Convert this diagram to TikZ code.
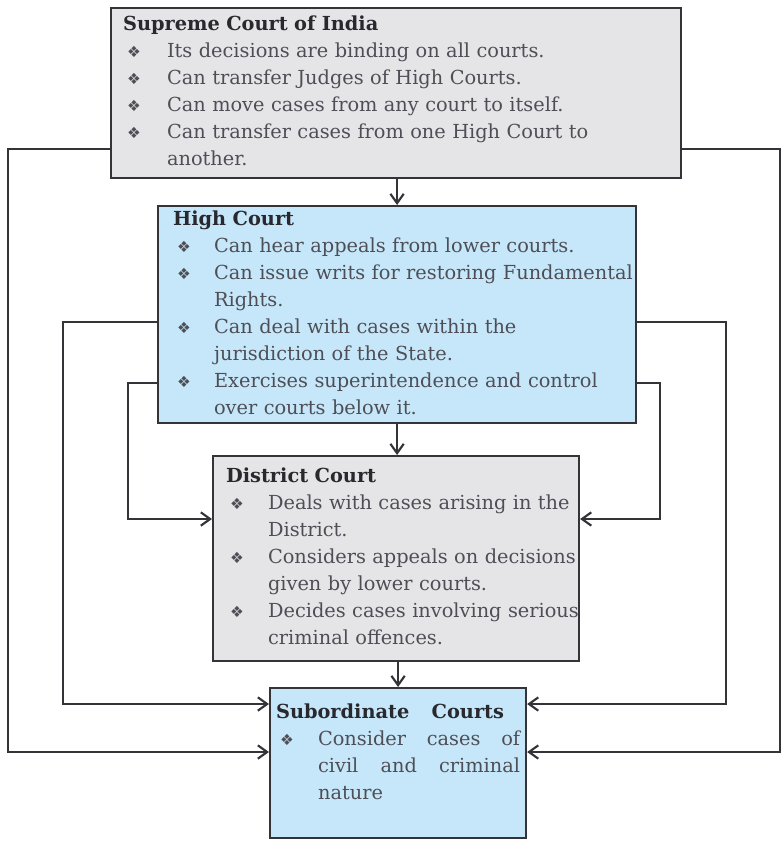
\documentclass[tikz,border=0pt]{standalone}
\usepackage{fontspec}
\setmainfont{DejaVu Serif}
\newfontfamily\dingfont{DejaVu Sans}
\usepackage{array}
\usetikzlibrary{arrows.meta,positioning,calc}
\definecolor{boxgray}{RGB}{229,229,231}
\definecolor{boxblue}{RGB}{198,231,249}
\definecolor{edgegray}{RGB}{52,52,56}
\definecolor{txtgray}{RGB}{78,78,86}
\definecolor{headgray}{RGB}{40,40,46}
\newdimen\px \px=0.75pt
\newcommand{\bul}{\hspace*{4\px}{\dingfont\fontsize{11.5}{11.5}\selectfont ❖}}
\newcommand{\head}[1]{{\bfseries\color{headgray}#1}}

\begin{document}
\begin{tikzpicture}[x=0.75pt,y=-0.75pt,>={Straight Barb[length=7pt,width=10pt]},
  court/.style={draw=edgegray,line width=1.6pt,anchor=north west,inner sep=0pt,align=left,
    font=\fontsize{14.5}{20.25}\selectfont,text=txtgray},
  conn/.style={->,draw=edgegray,line width=1.6pt}]
  \useasboundingbox (0,0) rectangle (784,846);

  % the four courts
  \node[court,fill=boxgray,text width=427.5pt,minimum height=127.5pt] (sc) at (110,7) {%
    \begin{tabular}{@{\hspace{12\px}}p{44\px}@{}l@{}}
    \multicolumn{2}{@{\hspace{12\px}}l@{}}{\head{Supreme Court of India}}\\
    \bul & Its decisions are binding on all courts.\\
    \bul & Can transfer Judges of High Courts.\\
    \bul & Can move cases from any court to itself.\\
    \bul & Can transfer cases from one High Court to\\
         & another.
    \end{tabular}};
  \node[court,fill=boxblue,text width=358.5pt,minimum height=162.75pt] (hc) at (157,205) {%
    \begin{tabular}{@{\hspace{15\px}}p{41\px}@{}l@{}}
    \multicolumn{2}{@{\hspace{15\px}}l@{}}{\head{High Court}}\\
    \bul & Can hear appeals from lower courts.\\
    \bul & Can issue writs for restoring Fundamental\\
         & Rights.\\
    \bul & Can deal with cases within the\\
         & jurisdiction of the State.\\
    \bul & Exercises superintendence and control\\
         & over courts below it.
    \end{tabular}};
  \node[court,fill=boxgray,text width=274.5pt,minimum height=153.75pt] (dc) at (212,455) {%
    \begin{tabular}{@{\hspace{13\px}}p{42\px}@{}l@{}}
    \multicolumn{2}{@{\hspace{13\px}}l@{}}{\head{District Court}}\\
    \bul & Deals with cases arising in the\\
         & District.\\
    \bul & Considers appeals on decisions\\
         & given by lower courts.\\
    \bul & Decides cases involving serious\\
         & criminal offences.
    \end{tabular}};
  \node[court,fill=boxblue,text width=192pt,minimum height=112.5pt] (subc) at (269,687) {%
    \begin{tabular}{@{\hspace{6\px}}p{42\px}@{}l@{}}
    \multicolumn{2}{@{\hspace{6\px}}l@{}}{\hbox to 228\px{\head{Subordinate\hfill Courts}}}\\
    \bul & \hbox to 202\px{Consider\hfill cases\hfill of}\\
         & \hbox to 202\px{civil\hfill and\hfill criminal}\\
         & nature\\[13.5pt]
    \end{tabular}};

  % turning points of the side connectors
  \coordinate (oL1) at (8,149);   \coordinate (oL2) at (8,752);
  \coordinate (oR1) at (780,149); \coordinate (oR2) at (780,752);
  \coordinate (mL1) at (63,322);  \coordinate (mL2) at (63,704);
  \coordinate (mR1) at (726,322); \coordinate (mR2) at (726,704);
  \coordinate (iL1) at (128,383); \coordinate (iL2) at (128,519);
  \coordinate (iR1) at (660,383); \coordinate (iR2) at (660,519);

  \draw[conn] (hc.north |- sc.south) -- (hc.north);
  \draw[conn] (hc.south) -- (hc.south |- dc.north);
  \draw[conn] (subc.north |- dc.south) -- (subc.north);

  \draw[conn] (sc.west |- oL1) -- (oL1) -- (oL2) -- (subc.west |- oL2);
  \draw[conn] (sc.east |- oR1) -- (oR1) -- (oR2) -- (subc.east |- oR2);
  \draw[conn] (hc.west |- mL1) -- (mL1) -- (mL2) -- (subc.west |- mL2);
  \draw[conn] (hc.east |- mR1) -- (mR1) -- (mR2) -- (subc.east |- mR2);
  \draw[conn] (hc.west |- iL1) -- (iL1) -- (iL2) -- (dc.west |- iL2);
  \draw[conn] (hc.east |- iR1) -- (iR1) -- (iR2) -- (dc.east |- iR2);
\end{tikzpicture}
\end{document}
